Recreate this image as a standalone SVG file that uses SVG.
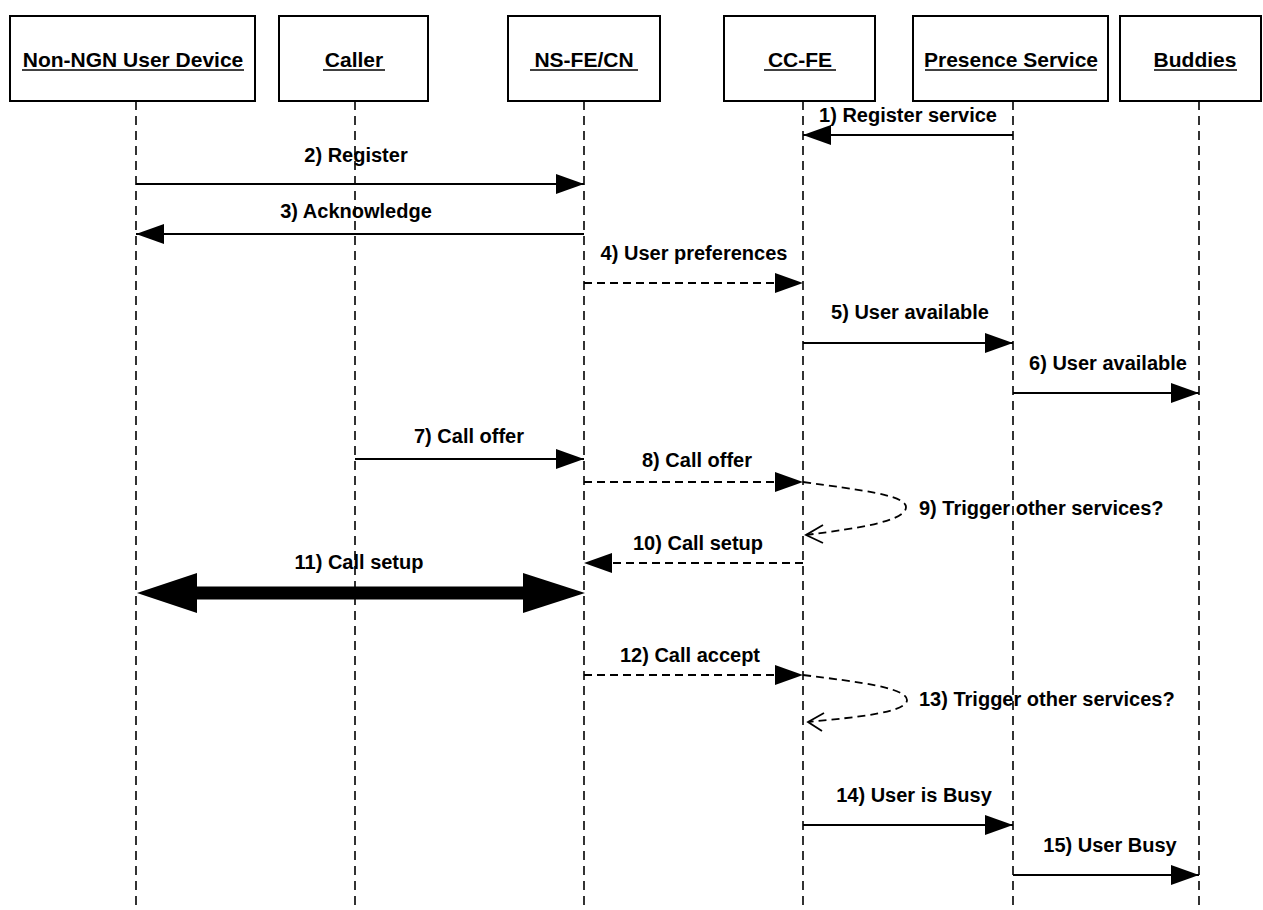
<svg xmlns="http://www.w3.org/2000/svg" width="1263" height="910" viewBox="0 0 1263 910">
<style>
.box{fill:#fff;stroke:#000;stroke-width:2}
.hd{font-family:"Liberation Sans",Arial,sans-serif;font-size:21px;font-weight:bold;text-anchor:middle;fill:#000}
.ul{stroke:#000;stroke-width:1.6}
.life{stroke:#000;stroke-width:1.6;stroke-dasharray:9 6;fill:none}
.msg{stroke:#000;stroke-width:1.8;fill:none}
.dmsg{stroke:#000;stroke-width:1.8;fill:none;stroke-dasharray:8 5}
.lbl{font-family:"Liberation Sans",Arial,sans-serif;font-size:20px;font-weight:bold;text-anchor:middle;fill:#000}
.lbls{font-family:"Liberation Sans",Arial,sans-serif;font-size:20px;font-weight:bold;fill:#000}
.open{stroke:#000;stroke-width:1.8;fill:none}
</style>
<defs>
<marker id="fa" markerWidth="28" markerHeight="20" refX="28" refY="10" orient="auto" markerUnits="userSpaceOnUse">
<path d="M0,0 L28,10 L0,20 z" fill="#000"/>
</marker>
</defs>
<rect width="1263" height="910" fill="#fff"/>

<g id="node-nonngn">
<rect class="box" x="10" y="16" width="245" height="85"/>
<text class="hd" x="133" y="67">Non-NGN User Device</text>
<line class="ul" x1="22" y1="70" x2="244" y2="70"/>
<line class="life" x1="136" y1="101" x2="136" y2="910"/>
</g>
<g id="node-caller">
<rect class="box" x="279" y="16" width="149" height="85"/>
<text class="hd" x="354" y="67">Caller</text>
<line class="ul" x1="323" y1="70" x2="385" y2="70"/>
<line class="life" x1="355" y1="101" x2="355" y2="910"/>
</g>
<g id="node-nsfe">
<rect class="box" x="508" y="16" width="152" height="85"/>
<text class="hd" x="584" y="67">NS-FE/CN</text>
<line class="ul" x1="530" y1="70" x2="638" y2="70"/>
<line class="life" x1="584" y1="101" x2="584" y2="910"/>
</g>
<g id="node-ccfe">
<rect class="box" x="724" y="16" width="151" height="85"/>
<text class="hd" x="800" y="67">CC-FE</text>
<line class="ul" x1="764" y1="70" x2="836" y2="70"/>
<line class="life" x1="803" y1="101" x2="803" y2="910"/>
</g>
<g id="node-presence">
<rect class="box" x="913" y="16" width="195" height="85"/>
<text class="hd" x="1011" y="67">Presence Service</text>
<line class="ul" x1="925" y1="70" x2="1097" y2="70"/>
<line class="life" x1="1013" y1="101" x2="1013" y2="910"/>
</g>
<g id="node-buddies">
<rect class="box" x="1120" y="16" width="141" height="85"/>
<text class="hd" x="1195" y="67">Buddies</text>
<line class="ul" x1="1154" y1="70" x2="1237" y2="70"/>
<line class="life" x1="1199" y1="101" x2="1199" y2="910"/>
</g>

<g id="connectors">
<line class="msg" x1="1013" y1="135" x2="803" y2="135" marker-end="url(#fa)"/>
<text class="lbl" x="908" y="122">1) Register service</text>

<line class="msg" x1="136" y1="184" x2="584" y2="184" marker-end="url(#fa)"/>
<text class="lbl" x="356" y="162">2) Register</text>

<line class="msg" x1="584" y1="234" x2="136" y2="234" marker-end="url(#fa)"/>
<text class="lbl" x="356" y="218">3) Acknowledge</text>

<line class="dmsg" x1="584" y1="283" x2="803" y2="283" marker-end="url(#fa)"/>
<text class="lbl" x="694" y="260">4) User preferences</text>

<line class="msg" x1="803" y1="343" x2="1013" y2="343" marker-end="url(#fa)"/>
<text class="lbl" x="910" y="319">5) User available</text>

<line class="msg" x1="1013" y1="393" x2="1199" y2="393" marker-end="url(#fa)"/>
<text class="lbl" x="1108" y="370">6) User available</text>

<line class="msg" x1="355" y1="459" x2="584" y2="459" marker-end="url(#fa)"/>
<text class="lbl" x="469" y="443">7) Call offer</text>

<line class="dmsg" x1="584" y1="482" x2="803" y2="482" marker-end="url(#fa)"/>
<text class="lbl" x="697" y="467">8) Call offer</text>

<path class="dmsg" d="M803,482 C860,490 906,495 906,507 C906,521 860,528 806,535"/>
<path class="open" d="M823,525 L806,535 L823,543"/>
<text class="lbls" x="919" y="515">9) Trigger other services?</text>

<line class="dmsg" x1="803" y1="563" x2="584" y2="563" marker-end="url(#fa)"/>
<text class="lbl" x="698" y="550">10) Call setup</text>

<line x1="195" y1="593" x2="525" y2="593" stroke="#000" stroke-width="13"/>
<polygon points="137,593 197,573 197,613" fill="#000"/>
<polygon points="585,593 523,573 523,613" fill="#000"/>
<text class="lbl" x="359" y="569">11) Call setup</text>

<line class="dmsg" x1="584" y1="675" x2="803" y2="675" marker-end="url(#fa)"/>
<text class="lbl" x="690" y="662">12) Call accept</text>

<path class="dmsg" d="M803,675 C860,682 907,688 907,700 C907,712 860,717 808,722"/>
<path class="open" d="M824,713 L808,722 L822,731"/>
<text class="lbls" x="919" y="706">13) Trigger other services?</text>

<line class="msg" x1="803" y1="825" x2="1013" y2="825" marker-end="url(#fa)"/>
<text class="lbl" x="914" y="802">14) User is Busy</text>

<line class="msg" x1="1013" y1="875" x2="1199" y2="875" marker-end="url(#fa)"/>
<text class="lbl" x="1110" y="852">15) User Busy</text>
</g>
</svg>
